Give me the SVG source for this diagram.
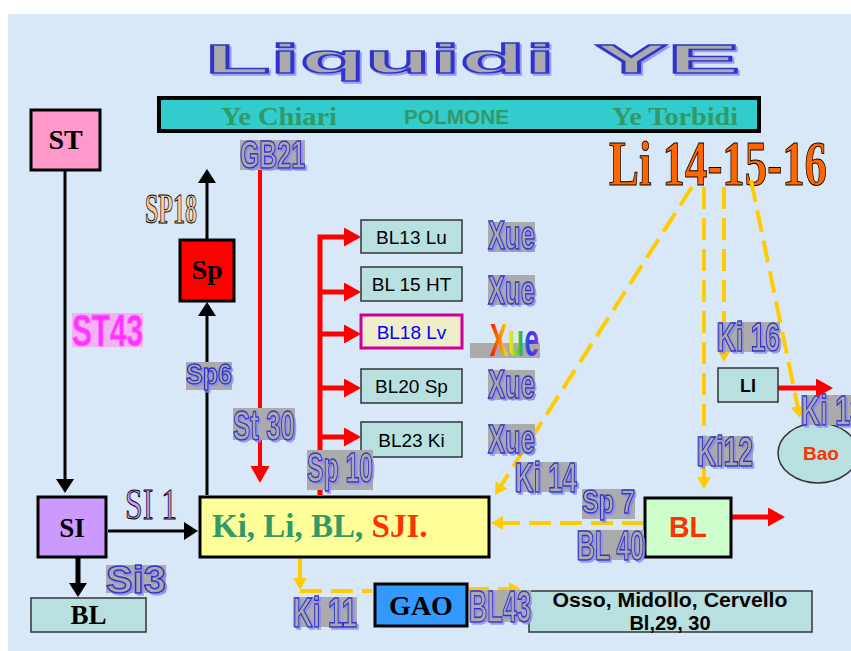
<svg xmlns="http://www.w3.org/2000/svg" width="851" height="651" viewBox="0 0 851 651">
<style>
.bx{stroke:#000;stroke-width:3}
.tb{fill:#B9E0E1;stroke:#333;stroke-width:1.5}
.ser{font-family:"Liberation Serif","Times New Roman",serif;font-weight:bold}
.san{font-family:"Liberation Sans",Arial,sans-serif}
.wa{font-family:"Liberation Sans",Arial,sans-serif;font-weight:bold;fill:#AAAAAA;stroke:#3333CC;stroke-width:1.5;filter:url(#sh)}
.wbg{fill:#ABABAB}
.blk{stroke:#000;stroke-width:3;fill:none}
.red{stroke:#FF0000;stroke-width:5;fill:none}
.gold{stroke:#FFCC00;stroke-width:4;fill:none;stroke-dasharray:22 9}
</style>
<defs>
<filter id="sh" x="-10%" y="-10%" width="130%" height="130%"><feDropShadow dx="2" dy="2" stdDeviation="0" flood-color="#8A8AF0" flood-opacity="0.8"/></filter>
<linearGradient id="rb" x1="0" y1="0" x2="1" y2="0">
<stop offset="0" stop-color="#FF0000"/><stop offset="0.2" stop-color="#FF8800"/><stop offset="0.4" stop-color="#FFEE00"/><stop offset="0.6" stop-color="#33CC33"/><stop offset="0.8" stop-color="#3333FF"/><stop offset="1" stop-color="#9933CC"/>
</linearGradient>
<marker id="ab" markerUnits="userSpaceOnUse" markerWidth="16" markerHeight="20" refX="2" refY="9" orient="auto"><path d="M0,0 L14,9 L0,18 z" fill="#000"/></marker>
<marker id="ar" markerUnits="userSpaceOnUse" markerWidth="19" markerHeight="21" refX="2" refY="9.5" orient="auto"><path d="M0,0 L17,9.5 L0,19 z" fill="#FF0000"/></marker>
<marker id="ag" markerUnits="userSpaceOnUse" markerWidth="14" markerHeight="16" refX="2" refY="7" orient="auto"><path d="M0,0 L12,7 L0,14 z" fill="#FFCC00"/></marker>
</defs>

<rect x="0" y="0" width="851" height="651" fill="#FFFFFF"/>
<rect x="8" y="14" width="843" height="637" fill="#D9E8F8"/>

<g id="title">
<text x="205" y="73" font-size="40" textLength="350" lengthAdjust="spacingAndGlyphs" class="san" font-weight="bold" fill="#AAAAAA" stroke="#3333CC" stroke-width="1.5" filter="url(#sh)">Liquidi</text>
<text x="595" y="73" font-size="40" textLength="145" lengthAdjust="spacingAndGlyphs" class="san" font-weight="bold" fill="#AAAAAA" stroke="#3333CC" stroke-width="1.5" filter="url(#sh)">YE</text>
</g>

<g id="polmone">
<rect x="159" y="98" width="600" height="33" fill="#33CCCC" stroke="#000" stroke-width="4"/>
<text x="221" y="125" font-size="26" class="ser" fill="#339966" textLength="116" lengthAdjust="spacingAndGlyphs">Ye Chiari</text>
<text x="404" y="124" font-size="20" class="san" font-weight="bold" fill="#339966" textLength="105" lengthAdjust="spacingAndGlyphs">POLMONE</text>
<text x="612" y="125" font-size="26" class="ser" fill="#339966" textLength="126" lengthAdjust="spacingAndGlyphs">Ye Torbidi</text>
</g>

<g id="li-points">
<text x="609" y="185" font-size="64" class="ser" fill="#FF6600" stroke="#000" stroke-width="1" textLength="218" lengthAdjust="spacingAndGlyphs">Li 14-15-16</text>
</g>

<g id="connectors">
<line class="blk" x1="65" y1="170" x2="65" y2="481" marker-end="url(#ab)"/>
<line class="blk" x1="108" y1="531" x2="186" y2="531" marker-end="url(#ab)"/>
<line class="blk" x1="207" y1="495" x2="207" y2="314" marker-end="url(#ab)"/>
<line class="blk" x1="207" y1="239" x2="207" y2="181" marker-end="url(#ab)"/>
<line x1="78" y1="558" x2="78" y2="585" stroke="#000" stroke-width="5" marker-end="url(#ab)"/>
<line x1="260" y1="170" x2="260" y2="468" stroke="#FF0000" stroke-width="4" marker-end="url(#ar)"/>
<path class="red" d="M320,495 V237 H346" marker-end="url(#ar)"/>
<line class="red" x1="320" y1="292" x2="346" y2="292" marker-end="url(#ar)"/>
<line class="red" x1="320" y1="334" x2="346" y2="334" marker-end="url(#ar)"/>
<line class="red" x1="320" y1="388" x2="346" y2="388" marker-end="url(#ar)"/>
<line class="red" x1="320" y1="437" x2="346" y2="437" marker-end="url(#ar)"/>
<line class="red" x1="732" y1="517" x2="770" y2="517" marker-end="url(#ar)"/>
<line class="red" x1="778" y1="388" x2="818" y2="388" marker-end="url(#ar)"/>
<line class="gold" x1="692" y1="187" x2="500.4" y2="486.6" marker-end="url(#ag)"/>
<line class="gold" x1="704" y1="187" x2="704" y2="479" marker-end="url(#ag)"/>
<line class="gold" x1="724" y1="187" x2="724" y2="352" marker-end="url(#ag)"/>
<line class="gold" x1="751" y1="180" x2="798" y2="408.2" marker-end="url(#ag)"/>
<line class="gold" x1="644" y1="523" x2="501" y2="523" marker-end="url(#ag)"/>
<line x1="300" y1="557" x2="300" y2="580" stroke="#FFCC00" stroke-width="4" marker-end="url(#ag)"/>
<line class="gold" x1="300" y1="591" x2="372" y2="591"/>
<line class="gold" x1="467" y1="589" x2="511" y2="589" marker-end="url(#ag)"/>
</g>

<g id="st">
<rect class="bx" x="31" y="110" width="69" height="60" fill="#FF99CC"/>
<text x="65.5" y="149" font-size="28" class="ser" text-anchor="middle" fill="#000">ST</text>
</g>
<g id="sp">
<rect class="bx" x="180" y="240" width="54" height="61" fill="#FF0000"/>
<text x="207" y="279" font-size="28" class="ser" text-anchor="middle" fill="#000">Sp</text>
</g>
<g id="si">
<rect class="bx" x="38" y="497" width="68" height="60" fill="#CC99FF"/>
<text x="72" y="537" font-size="27" class="ser" text-anchor="middle" fill="#000">SI</text>
</g>
<g id="bl-left">
<rect class="tb" x="31" y="598" width="115" height="34"/>
<text x="88.5" y="624" font-size="27" class="ser" text-anchor="middle" fill="#000">BL</text>
</g>
<g id="kili">
<rect class="bx" x="200" y="497" width="289" height="60" fill="#FFFF99"/>
<text x="212" y="537" font-size="33" class="ser"><tspan fill="#339966">Ki, Li, BL, </tspan><tspan fill="#FF3300">SJI.</tspan></text>
</g>
<g id="gao">
<rect class="bx" x="375" y="584" width="92" height="42" fill="#3399FF"/>
<text x="421" y="615" font-size="28" class="ser" text-anchor="middle" fill="#000">GAO</text>
</g>
<g id="osso">
<rect class="tb" x="529" y="591" width="283" height="41"/>
<text x="670" y="607" font-size="20" class="san" font-weight="bold" text-anchor="middle" textLength="235" lengthAdjust="spacingAndGlyphs" fill="#000">Osso, Midollo, Cervello</text>
<text x="670" y="630" font-size="20" class="san" font-weight="bold" text-anchor="middle" fill="#000">Bl,29, 30</text>
</g>
<g id="bl-green">
<rect class="bx" x="645" y="498" width="86" height="59" fill="#CCFFCC"/>
<text x="669" y="537" font-size="30" class="san" font-weight="bold" fill="#FF3300" textLength="38" lengthAdjust="spacingAndGlyphs">BL</text>
</g>
<g id="li-box">
<rect class="tb" x="718" y="368" width="60" height="34"/>
<text x="748" y="392" font-size="18" class="san" font-weight="bold" text-anchor="middle" fill="#000">LI</text>
</g>
<g id="bao">
<ellipse cx="818" cy="453" rx="40" ry="30" fill="#B9E0E1" stroke="#333" stroke-width="1.5"/>
<text x="821" y="460" font-size="19" class="san" font-weight="bold" text-anchor="middle" fill="#FF3300">Bao</text>
</g>
<g id="bl13">
<rect class="tb" x="361" y="220" width="101" height="33"/>
<text x="411.5" y="244" font-size="19" class="san" text-anchor="middle" fill="#000">BL13 Lu</text>
</g>
<g id="bl15">
<rect class="tb" x="361" y="267" width="101" height="34"/>
<text x="411.5" y="291" font-size="19" class="san" text-anchor="middle" fill="#000">BL 15 HT</text>
</g>
<g id="bl18">
<rect x="361" y="315" width="101" height="33" fill="#EEEEC8" stroke="#CC0099" stroke-width="3"/>
<text x="411.5" y="339" font-size="19" class="san" text-anchor="middle" fill="#0000FF">BL18 Lv</text>
</g>
<g id="bl20">
<rect class="tb" x="361" y="369" width="101" height="34"/>
<text x="411.5" y="393" font-size="19" class="san" text-anchor="middle" fill="#000">BL20 Sp</text>
</g>
<g id="bl23">
<rect class="tb" x="361" y="422" width="101" height="35"/>
<text x="411.5" y="447" font-size="19" class="san" text-anchor="middle" fill="#000">BL23 Ki</text>
</g>

<g id="labels">
<text x="145" y="223" font-size="42" class="ser" fill="#FFCC99" stroke="#000" stroke-width="1" textLength="52" lengthAdjust="spacingAndGlyphs">SP18</text>
<rect x="72" y="313" width="71" height="34" fill="#F7A6EE" opacity="0.8"/>
<text x="72" y="346" font-size="44" class="san" font-weight="bold" fill="#FF33FF" stroke="#FF66FF" stroke-width="1" textLength="71" lengthAdjust="spacingAndGlyphs">ST43</text>
<text x="125" y="519" font-size="44" font-family="Liberation Serif, Times New Roman, serif" fill="#CC99FF" stroke="#000" stroke-width="1" textLength="52" lengthAdjust="spacingAndGlyphs">SI 1</text>

<rect class="wbg" x="240" y="140" width="65" height="30"/>
<text class="wa" x="240" y="168" font-size="38" textLength="65" lengthAdjust="spacingAndGlyphs">GB21</text>
<rect class="wbg" x="186" y="362" width="46" height="28"/>
<text class="wa" x="186" y="384" font-size="29" textLength="46" lengthAdjust="spacingAndGlyphs">Sp6</text>
<rect class="wbg" x="233" y="408" width="62" height="32"/>
<text class="wa" x="233" y="440" font-size="43" textLength="62" lengthAdjust="spacingAndGlyphs">St 30</text>
<rect class="wbg" x="307" y="450" width="66" height="40"/>
<text class="wa" x="307" y="482" font-size="43" textLength="66" lengthAdjust="spacingAndGlyphs">Sp 10</text>
<rect class="wbg" x="488" y="222" width="47" height="30"/>
<text class="wa" x="488" y="249" font-size="40" textLength="47" lengthAdjust="spacingAndGlyphs">Xue</text>
<rect class="wbg" x="488" y="275" width="47" height="30"/>
<text class="wa" x="488" y="304" font-size="40" textLength="47" lengthAdjust="spacingAndGlyphs">Xue</text>
<rect x="470" y="343" width="70" height="15" fill="#AAAAAA"/>
<text x="490" y="356" font-size="46" class="san" font-weight="bold" fill="url(#rb)" textLength="49" lengthAdjust="spacingAndGlyphs">Xue</text>
<rect class="wbg" x="488" y="370" width="47" height="30"/>
<text class="wa" x="488" y="398" font-size="40" textLength="47" lengthAdjust="spacingAndGlyphs">Xue</text>
<rect class="wbg" x="488" y="424" width="47" height="30"/>
<text class="wa" x="488" y="453" font-size="40" textLength="47" lengthAdjust="spacingAndGlyphs">Xue</text>
<rect class="wbg" x="515" y="462" width="62" height="30"/>
<text class="wa" x="515" y="492" font-size="42" textLength="62" lengthAdjust="spacingAndGlyphs">Ki 14</text>
<rect class="wbg" x="582" y="489" width="53" height="30"/>
<text class="wa" x="582" y="513" font-size="34" textLength="53" lengthAdjust="spacingAndGlyphs">Sp 7</text>
<rect class="wbg" x="577" y="530" width="67" height="30"/>
<text class="wa" x="577" y="560" font-size="42" textLength="67" lengthAdjust="spacingAndGlyphs">BL 40</text>
<rect class="wbg" x="293" y="597" width="64" height="30"/>
<text class="wa" x="293" y="627" font-size="42" textLength="64" lengthAdjust="spacingAndGlyphs">Ki 11</text>
<rect class="wbg" x="469" y="590" width="62" height="32"/>
<text class="wa" x="469" y="622" font-size="44" textLength="62" lengthAdjust="spacingAndGlyphs">BL43</text>
<rect class="wbg" x="106" y="565" width="60" height="28"/>
<text class="wa" x="106" y="593" font-size="38" textLength="60" lengthAdjust="spacingAndGlyphs">Si3</text>
<rect class="wbg" x="717" y="322" width="63" height="30"/>
<text class="wa" x="717" y="351" font-size="40" textLength="63" lengthAdjust="spacingAndGlyphs">Ki 16</text>
<rect class="wbg" x="697" y="436" width="56" height="30"/>
<text class="wa" x="697" y="466" font-size="42" textLength="56" lengthAdjust="spacingAndGlyphs">Ki12</text>
<rect class="wbg" x="801" y="395" width="50" height="30"/>
<text class="wa" x="801" y="425" font-size="42" textLength="64" lengthAdjust="spacingAndGlyphs">Ki 13</text>
</g>
</svg>
